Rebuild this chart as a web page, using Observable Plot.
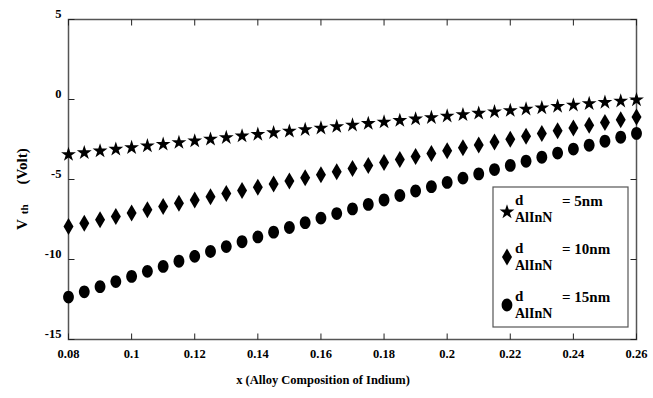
<!DOCTYPE html>
<html><head><meta charset="utf-8">
<script src="https://cdn.jsdelivr.net/npm/d3@7"></script>
<script src="https://cdn.jsdelivr.net/npm/@observablehq/plot@0.6"></script>
<style>body{margin:0;background:#fff}#chart{position:relative;width:653px;height:398px}</style>
</head><body><div id="chart"></div>
<script>
// x: alloy composition of indium
const xValues = [0.08,0.085,0.09,0.095,0.1,0.105,0.11,0.115,0.12,0.125,0.13,0.135,0.14,0.145,0.15,0.155,0.16,0.165,0.17,0.175,0.18,0.185,0.19,0.195,0.2,0.205,0.21,0.215,0.22,0.225,0.23,0.235,0.24,0.245,0.25,0.255,0.26];
// Vth (Volt) for d_AlInN = 5nm, 10nm, 15nm
const vth5nm = [-3.44,-3.33,-3.22,-3.11,-3.01,-2.90,-2.80,-2.69,-2.59,-2.48,-2.38,-2.28,-2.18,-2.08,-1.98,-1.88,-1.79,-1.69,-1.60,-1.50,-1.41,-1.31,-1.22,-1.13,-1.04,-0.95,-0.86,-0.77,-0.69,-0.60,-0.52,-0.43,-0.35,-0.26,-0.18,-0.10,-0.02];
const vth10nm = [-7.94,-7.73,-7.52,-7.31,-7.10,-6.89,-6.69,-6.48,-6.28,-6.08,-5.88,-5.68,-5.48,-5.28,-5.09,-4.89,-4.70,-4.51,-4.32,-4.13,-3.94,-3.75,-3.57,-3.38,-3.20,-3.02,-2.84,-2.66,-2.48,-2.30,-2.13,-1.95,-1.78,-1.61,-1.44,-1.27,-1.10];
const vth15nm = [-12.35,-12.02,-11.70,-11.38,-11.06,-10.74,-10.43,-10.11,-9.80,-9.50,-9.19,-8.89,-8.59,-8.29,-8.00,-7.70,-7.41,-7.13,-6.84,-6.56,-6.28,-6.00,-5.72,-5.45,-5.18,-4.91,-4.65,-4.38,-4.12,-3.86,-3.61,-3.35,-3.10,-2.86,-2.61,-2.36,-2.12];
const xTicks = [0.08,0.1,0.12,0.14,0.16,0.18,0.2,0.22,0.24,0.26];
const yTicks = [-15,-10,-5,0,5];
const legendValues = ["= 5nm","= 10nm","= 15nm"];
const legendSymbol = "d";
const legendSub = "AlInN";
const xTitle = "x (Alloy Composition of Indium)";
const yTitleMain = "V", yTitleSub = "th", yTitleUnit = "(Volt)";

// marker shapes
const starSym = {draw(ctx){const R=7.8,r=R*0.382;for(let i=0;i<10;i++){const a=-Math.PI/2+i*Math.PI/5,rr=i%2?r:R,px=rr*Math.cos(a),py=rr*Math.sin(a);if(i)ctx.lineTo(px,py);else ctx.moveTo(px,py);}ctx.closePath();}};
const diamondSym = {draw(ctx){ctx.moveTo(0,-8.5);ctx.lineTo(5,0);ctx.lineTo(0,8.5);ctx.lineTo(-5,0);ctx.closePath();}};
const ellipseSym = {draw(ctx){const rx=5.4,ry=6.4,k=0.5523;ctx.moveTo(rx,0);ctx.bezierCurveTo(rx,ry*k,rx*k,ry,0,ry);ctx.bezierCurveTo(-rx*k,ry,-rx,ry*k,-rx,0);ctx.bezierCurveTo(-rx,-ry*k,-rx*k,-ry,0,-ry);ctx.bezierCurveTo(rx*k,-ry,rx,-ry*k,rx,0);ctx.closePath();}};
const tickR = {draw(c){c.moveTo(0,0);c.lineTo(6,0);}};
const tickL = {draw(c){c.moveTo(0,0);c.lineTo(-6,0);}};
const tickU = {draw(c){c.moveTo(0,0);c.lineTo(0,-6);}};
const tickD = {draw(c){c.moveTo(0,0);c.lineTo(0,6);}};

const font = "'Liberation Serif','Times New Roman',serif";
const tickStyle = {fill:"none", stroke:"#222", strokeWidth:1};
const chart = Plot.plot({
  width:653, height:398, marginLeft:68, marginRight:17, marginTop:19, marginBottom:59,
  x:{domain:[0.08,0.26]}, y:{domain:[-15,5]},
  style:{fontFamily:font, fontSize:"12.5px", fontWeight:"bold", background:"#fff", color:"#000"},
  marks:[
    Plot.frame({stroke:"#555", strokeWidth:1.5}),
    Plot.axisX({ticks:xTicks, tickSize:0, tickPadding:10, tickFormat:d=>String(+d.toFixed(2)), label:null}),
    Plot.axisY({ticks:yTicks, tickSize:0, tickPadding:7, dy:-6, tickFormat:d=>String(d), label:null}),
    Plot.dot(yTicks, {y:d=>d, frameAnchor:"left", symbol:tickR, ...tickStyle}),
    Plot.dot(yTicks, {y:d=>d, frameAnchor:"right", symbol:tickL, ...tickStyle}),
    Plot.dot(xTicks, {x:d=>d, frameAnchor:"bottom", symbol:tickU, ...tickStyle}),
    Plot.dot(xTicks, {x:d=>d, frameAnchor:"top", symbol:tickD, ...tickStyle}),
    Plot.dot(xValues, {x:d=>d, y:(d,i)=>vth5nm[i], symbol:starSym, fill:"#000", stroke:"none"}),
    Plot.dot(xValues, {x:d=>d, y:(d,i)=>vth10nm[i], symbol:diamondSym, fill:"#000", stroke:"none"}),
    Plot.dot(xValues, {x:d=>d, y:(d,i)=>vth15nm[i], symbol:ellipseSym, fill:"#000", stroke:"none"})
  ]
});
document.getElementById("chart").appendChild(chart);

const svg = d3.select(chart);
// x title
svg.append("text").attr("x",323).attr("y",384).attr("text-anchor","middle")
  .attr("font-family",font).attr("font-weight","bold").attr("font-size","12.5px").text(xTitle);
// y title (rotated, with subscript)
const yt = svg.append("text").attr("transform","translate(27,230) rotate(-90)").attr("text-anchor","start")
  .attr("font-family",font).attr("font-weight","bold").attr("font-size","15px");
yt.append("tspan").text(yTitleMain);
yt.append("tspan").attr("dx",5).attr("dy",1).attr("font-size","11px").text(yTitleSub);
yt.append("tspan").attr("dx",20).attr("dy",-1).text(yTitleUnit);

// legend
const lg = svg.append("g").attr("font-family",font).attr("font-weight","bold").attr("font-size","15px").attr("text-anchor","start");
lg.append("rect").attr("x",493).attr("y",187).attr("width",135).attr("height",140).attr("fill","#fff").attr("stroke","#555").attr("stroke-width",1.2);
const syms = [starSym, diamondSym, ellipseSym];
const symY = [212, 257, 305];
legendValues.forEach((lab,i)=>{
  const p = d3.path(); syms[i].draw(p);
  lg.append("path").attr("d",p.toString()).attr("transform",`translate(507,${symY[i]})`).attr("fill","#000");
  const base = 205 + 48*i;
  lg.append("text").attr("x",515).attr("y",base).text(legendSymbol);
  lg.append("text").attr("x",515).attr("y",base+17).attr("font-size","14px").text(legendSub);
  lg.append("text").attr("x",562).attr("y",base+1).text(lab);
});
</script>
</body></html>
